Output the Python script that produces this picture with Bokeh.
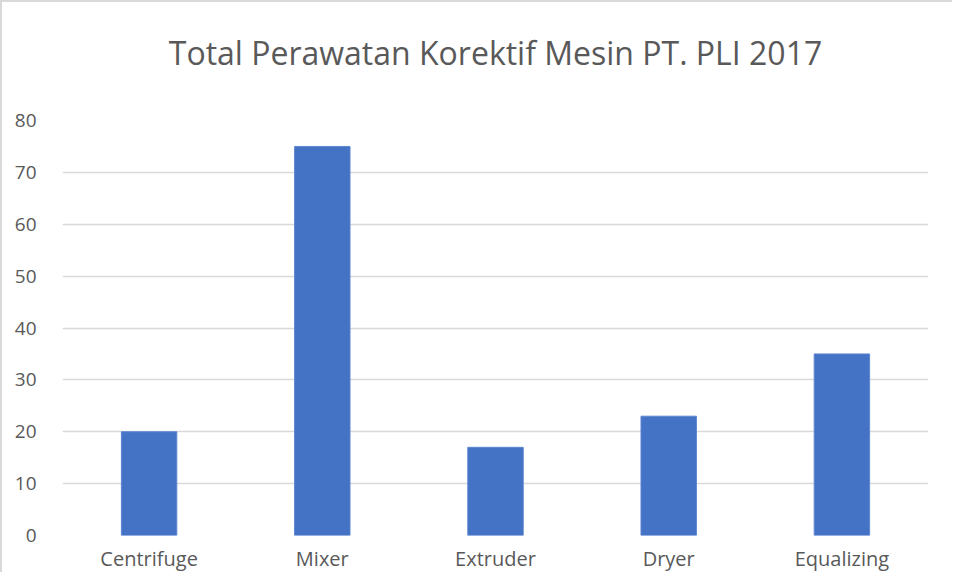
from bokeh.plotting import figure
from bokeh.models import Range1d, FixedTicker, Title
from bokeh.embed import file_html
from bokeh.resources import INLINE

categories = ["Centrifuge", "Mixer", "Extruder", "Dryer", "Equalizing"]
values = [20, 75, 17, 23, 35]
y_ticks = [0, 10, 20, 30, 40, 50, 60, 70, 80]

p = figure(x_range=categories, y_range=Range1d(0, 80), width=952, height=572,
           output_backend="svg", toolbar_location=None,
           title="Total Perawatan Korektif Mesin PT. PLI 2017",
           min_border_left=60, min_border_right=26, min_border_top=118, min_border_bottom=31)

p.vbar(x=categories, top=values, width=0.32, fill_color="#4472C4", line_color="#5B86D0", line_width=1)

p.title.align = "center"
p.title.vertical_align = "top"
p.title.text_font = "Open Sans"
p.title.text_font_size = "32px"
p.title.text_font_style = "normal"
p.title.text_color = "#595959"
p.title.standoff = 51

# empty spacer between title and plot area
p.add_layout(Title(text=" ", text_font_size="16px", standoff=0), "above")

p.outline_line_color = None
p.xgrid.grid_line_color = None
p.ygrid.grid_line_color = "#d9d9d9"
p.ygrid.grid_line_width = 1.5
p.yaxis.ticker = FixedTicker(ticks=y_ticks)

for ax in (p.xaxis, p.yaxis):
    ax.axis_line_color = None
    ax.major_tick_line_color = None
    ax.minor_tick_line_color = None
    ax.major_label_text_font = "Open Sans"
    ax.major_label_text_color = "#595959"

p.yaxis.major_label_text_font_size = "19px"
p.xaxis.major_label_text_font_size = "20px"
p.yaxis.major_label_standoff = 20
p.xaxis.major_label_standoff = 3

p.styles = {"border-left": "2px solid #d9d9d9", "border-top": "2px solid #d9d9d9"}

open("out.html", "w").write(file_html(p, INLINE))
